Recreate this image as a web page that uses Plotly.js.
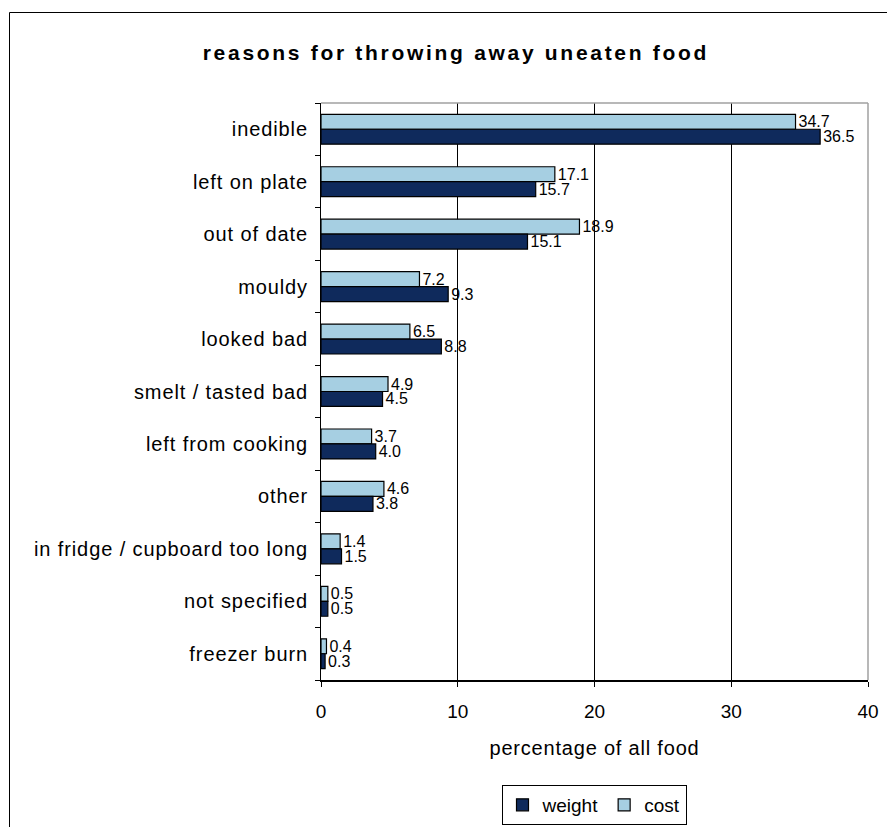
<!DOCTYPE html>
<html>
<head>
<meta charset="utf-8">
<script src="https://cdn.plot.ly/plotly-3.0.1.min.js"></script>
<style>html,body{margin:0;padding:0;background:#fff;}</style>
</head>
<body>
<div id="chart" style="width:887px;height:827px;"></div>
<script>
var categories = ['inedible','left on plate','out of date','mouldy','looked bad','smelt / tasted bad','left from cooking','other','in fridge / cupboard too long','not specified','freezer burn'];
var costValues = [34.7,17.1,18.9,7.2,6.5,4.9,3.7,4.6,1.4,0.5,0.4];
var weightValues = [36.5,15.7,15.1,9.3,8.8,4.5,4.0,3.8,1.5,0.5,0.3];
var xTicks = [0,10,20,30,40];

var FONT = 'Arial, "Liberation Sans", sans-serif';
function spaced(s, px) { return '<span style="letter-spacing:' + px + 'px">' + s + '</span>'; }

var cost = {
  type: 'bar', orientation: 'h', name: 'cost',
  y: categories, x: costValues,
  marker: {color: '#A6CFE2', line: {color: '#000', width: 1.2}},
  texttemplate: '%{x:.1f}', textposition: 'outside', constraintext: 'none',
  textfont: {family: FONT, size: 16, color: '#000'}, cliponaxis: false,
  hoverinfo: 'x+y'
};
var weight = {
  type: 'bar', orientation: 'h', name: 'weight',
  y: categories, x: weightValues,
  marker: {color: '#0F2A5C', line: {color: '#000', width: 1.2}},
  texttemplate: '%{x:.1f}', textposition: 'outside', constraintext: 'none',
  textfont: {family: FONT, size: 16, color: '#000'}, cliponaxis: false,
  hoverinfo: 'x+y'
};

var layout = {
  width: 887, height: 827,
  margin: {l: 321, r: 19, t: 103, b: 147, autoexpand: false},
  paper_bgcolor: '#fff', plot_bgcolor: '#fff',
  font: {family: FONT, size: 19, color: '#000'},
  title: {
    text: spaced('reasons for throwing away uneaten food', 2.7),
    font: {family: FONT, size: 21, color: '#000', weight: 'bold'},
    xref: 'container', yref: 'container', x: 0.514, y: 1 - 53/827,
    xanchor: 'center', yanchor: 'middle'
  },
  barmode: 'group', bargap: 0.43, bargroupgap: 0,
  showlegend: true,
  legend: {
    orientation: 'h', traceorder: 'reversed',
    xref: 'container', yref: 'container',
    x: 594 / 887, xanchor: 'center',
    y: 1 - 785 / 827, yanchor: 'top',
    bordercolor: '#000', borderwidth: 1, bgcolor: '#fff',
    font: {family: FONT, size: 19, color: '#000'},
    itemwidth: 30, tracegroupgap: 0
  },
  xaxis: {
    range: [0, 40], tickvals: xTicks, ticktext: xTicks.map(String),
    showgrid: true, gridcolor: '#000', gridwidth: 1,
    zeroline: false, showline: true, linecolor: '#000', linewidth: 1.5,
    ticks: 'outside', ticklen: 5, tickcolor: '#000',
    tickfont: {family: FONT, size: 19, color: '#000'},
    ticklabelstandoff: 9,
    title: {text: spaced('percentage of all food', 0.8), font: {family: FONT, size: 20, color: '#000'}, standoff: 19},
    fixedrange: true, automargin: false
  },
  yaxis: {
    type: 'category', autorange: 'reversed',
    tickmode: 'array', tickvals: categories, ticktext: categories.map(function (c) { return spaced(c, 0.9); }),
    showgrid: false, zeroline: false, showline: true, linecolor: '#000', linewidth: 1,
    ticks: 'outside', tickson: 'boundaries', ticklen: 5, tickcolor: '#000',
    tickfont: {family: FONT, size: 20, color: '#000'},
    ticklabelstandoff: 8,
    fixedrange: true, automargin: false
  },
  shapes: [
    {type: 'line', xref: 'paper', yref: 'paper', x0: 0, x1: 1, y0: 1, y1: 1, line: {color: '#A0A0A0', width: 1.5}, layer: 'above'},
    {type: 'line', xref: 'paper', yref: 'paper', x0: 1, x1: 1, y0: 0, y1: 1, line: {color: '#A0A0A0', width: 1.5}, layer: 'above'},
    {type: 'rect', xref: 'paper', yref: 'paper',
     x0: (9.5 - 321) / 547, x1: (1100 - 321) / 547,
     y0: (680 - 1100) / 577, y1: (680 - 12.5) / 577,
     line: {color: '#000', width: 1}, fillcolor: 'rgba(0,0,0,0)', layer: 'below'}
  ]
};

Plotly.newPlot('chart', [cost, weight], layout, {displayModeBar: false, staticPlot: true});
</script>
</body>
</html>
